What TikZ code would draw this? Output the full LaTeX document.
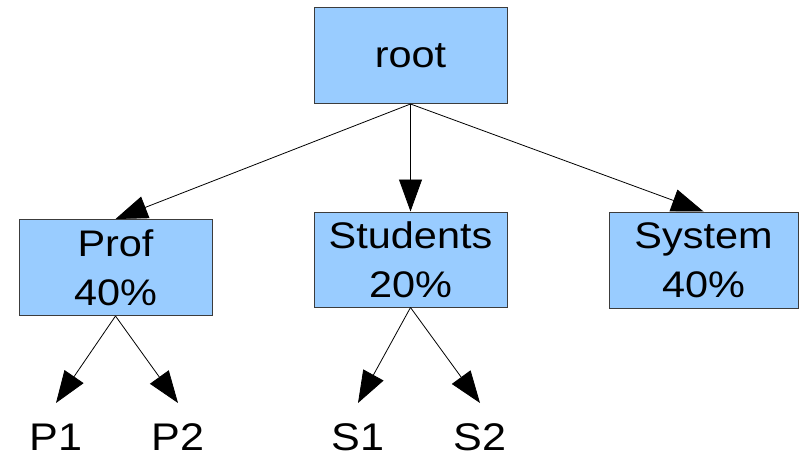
\documentclass[tikz,border=0pt]{standalone}
\usepackage{fontspec}
\setmainfont{Liberation Sans}[FakeStretch=1.12]
\usetikzlibrary{arrows.meta}
\definecolor{boxfill}{HTML}{99CCFF}
\definecolor{boxline}{HTML}{3C3C3C}
\tikzset{
  box/.style={draw=boxline, fill=boxfill, line width=1pt, inner sep=0pt,
    minimum width=193pt, minimum height=96pt, align=center,
    font=\fontsize{37}{49}\selectfont},
  leaf/.style={inner sep=0pt, outer sep=0pt, anchor=base, text height=47pt,
    font=\fontsize{38.5}{49}\selectfont},
  link/.style={draw=black, line width=0.8pt,
    -{Triangle[length=32pt,width=23pt]}}
}
\begin{document}
\begin{tikzpicture}[x=1pt,y=-1pt]
  \useasboundingbox (0,0) rectangle (799,455);
  % category boxes
  \node[box] (root) at (410.5,55.5) {root};
  \node[box] (prof) at (115.5,267.5) {Prof\\40\%};
  \node[box, minimum height=95pt] (students) at (410.5,259.5) {Students\\20\%};
  \node[box, minimum width=189pt] (system) at (703.5,260) {System\\40\%};
  % leaf labels
  \node[leaf] (p1) at (56,450) {P1};
  \node[leaf] (p2) at (178,450) {P2};
  \node[leaf] (s1) at (358,450) {S1};
  \node[leaf] (s2) at (480,450) {S2};
  % connectors
  \draw[link] (root.south) -- (prof.north);
  \draw[link] (root.south) -- (students.north);
  \draw[link] (root.south) -- (system.north);
  \draw[link] (prof.south) -- (p1.north);
  \draw[link] (prof.south) -- (p2.north);
  \draw[link] (students.south) -- (s1.north);
  \draw[link] (students.south) -- (s2.north);
\end{tikzpicture}
\end{document}
